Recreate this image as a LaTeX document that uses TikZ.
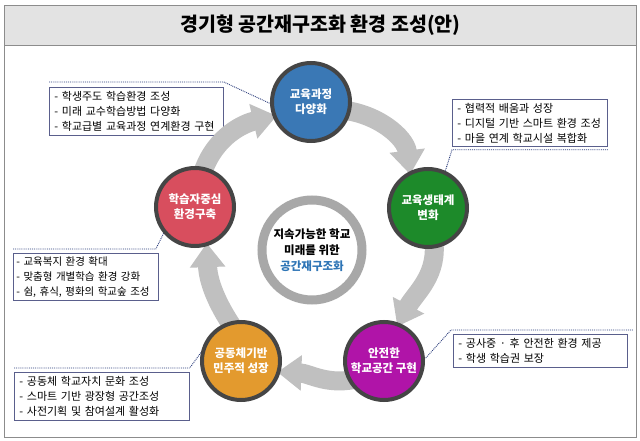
\documentclass[tikz,border=0pt]{standalone}
\usepackage{fontspec}
\setmainfont{Noto Sans CJK KR}
\usetikzlibrary{arrows.meta}
\definecolor{framegray}{HTML}{8C8C8C}
\definecolor{titlefill}{HTML}{E3E3E3}
\definecolor{arrowgray}{HTML}{C0C0C0}
\definecolor{ringgray}{HTML}{A8A8A8}
\definecolor{rimgray}{HTML}{454545}
\definecolor{cblue}{HTML}{3A78B5}
\definecolor{cgreen}{HTML}{1D8A2A}
\definecolor{cpurple}{HTML}{B014A8}
\definecolor{corange}{HTML}{E39A2E}
\definecolor{cred}{HTML}{D84E5E}
\definecolor{boxline}{HTML}{5A5F8C}
\definecolor{leadline}{HTML}{2A3C7C}
\definecolor{textblue}{HTML}{2E75B6}
\begin{document}
\begin{tikzpicture}[x=1pt,y=1pt,
  stage/.style={circle, draw=rimgray, line width=4pt, minimum size=78pt, inner sep=0pt,
    text=white, font=\bfseries\fontsize{11.5}{15}\selectfont, align=center},
  flow/.style={draw=arrowgray, line width=19pt, -{Triangle[length=24pt,width=34pt]}},
  callout/.style={draw=boxline, line width=0.8pt, fill=white, anchor=north west,
    inner xsep=5pt, inner ysep=0pt, align=left, font=\fontsize{11}{15}\selectfont},
  leader/.style={draw=leadline, line width=0.9pt, densely dotted},
]
\useasboundingbox (0,0) rectangle (640,-441);
% frame and title
\node[draw=framegray, line width=1.2pt, fill=white, minimum width=632pt, minimum height=432pt,
  anchor=north west, inner sep=0pt] (frame) at (4,-5) {};
\node[draw=framegray, line width=1.2pt, fill=titlefill, minimum width=632pt, minimum height=40pt,
  anchor=north west, inner sep=0pt, font=\bfseries\fontsize{19.5}{21}\selectfont] (title) at (4,-5)
  {경기형 공간재구조화 환경 조성(안)};

% centre ring
\node[circle, draw=ringgray, line width=9pt, minimum size=100pt, inner sep=0pt, align=center,
  font=\bfseries\fontsize{11.5}{16}\selectfont] (core) at (312,-250)
  {지속가능한 학교\\미래를 위한\\\textcolor{textblue}{공간재구조화}};

% stage positions
\coordinate (pblue) at (311,-102);
\coordinate (pgreen) at (428,-208);
\coordinate (ppurple) at (384,-361);
\coordinate (porange) at (241,-361);
\coordinate (pred) at (195,-207);

% callout boxes
\node[callout, minimum width=174pt, text width=164pt, minimum height=48pt] (b1) at (49,-87)
  {- 학생주도 학습환경 조성\\- 미래 교수학습방법 다양화\\- 학교급별 교육과정 연계환경 구현};
\node[callout, minimum width=155pt, text width=145pt, minimum height=47pt] (b2) at (452,-99)
  {- 협력적 배움과 성장\\- 디지털 기반 스마트 환경 조성\\- 마을 연계 학교시설 복합화};
\node[callout, inner xsep=3pt, minimum width=145pt, text width=139pt, minimum height=47pt,
  font=\fontsize{10.5}{15}\selectfont] (b3) at (13,-253)
  {- 교육복지 환경 확대\\- 맞춤형 개별학습 환경 강화\\- 쉼, 휴식, 평화의 학교숲 조성};
\node[callout, minimum width=174pt, text width=164pt, minimum height=33pt] (b4) at (453,-334)
  {- 공사중 · 후 안전한 환경 제공\\- 학생 학습권 보장};
\node[callout, minimum width=175pt, text width=165pt, minimum height=48pt] (b5) at (14,-372)
  {- 공동체 학교자치 문화 조성\\- 스마트 기반 광장형 공간조성\\- 사전기획 및 참여설계 활성화};

% circle anchors (drawn later)
\node[stage, draw=none] (blue) at (pblue) {};
\node[stage, draw=none] (green) at (pgreen) {};
\node[stage, draw=none] (purple) at (ppurple) {};
\node[stage, draw=none] (orange) at (porange) {};
\node[stage, draw=none] (red) at (pred) {};

% big flow arrows
\draw[flow] ([shift={(78:30pt)}]red.center) to[out=75,in=193] ([shift={(202:37pt)}]blue.center);
\draw[flow] ([shift={(-15:30pt)}]blue.center) to[out=-5,in=97] ([shift={(118:38pt)}]green.center);
\draw[flow] ([shift={(-80:30pt)}]green.center) to[out=-80,in=62] ([shift={(69:37pt)}]purple.center);
\draw[flow] ([shift={(215:30pt)}]purple.center) to[out=195,in=-2] ([shift={(-17:38pt)}]orange.center);
\draw[flow] ([shift={(100:30pt)}]orange.center) to[out=125,in=-88] ([shift={(-72:38pt)}]red.center);

% leader lines
\draw[leader] ([yshift=5pt]b1.north west) -- ([yshift=5pt]b1.north east) -- (blue.182);
\draw[leader] ([yshift=-3pt]b2.south east) -- ([yshift=-3pt]b2.south west) -- (green.65);
\draw[leader] ([yshift=4pt]b3.north west) -- ([shift={(-3pt,4pt)}]b3.north east) -- (red.220);
\draw[leader] ([shift={(5pt,4pt)}]b4.north east) -- ([shift={(-2pt,4pt)}]b4.north west) -- (purple.3);
\draw[leader] ([yshift=4pt]b5.north west) -- ([yshift=4pt]b5.north east) -- (orange.168);

% stage circles
\node[stage, fill=cblue] at (blue) {교육과정\\다양화};
\node[stage, fill=cgreen] at (green) {교육생태계\\변화};
\node[stage, fill=cpurple] at (purple) {안전한\\학교공간 구현};
\node[stage, fill=corange] at (orange) {공동체기반\\민주적 성장};
\node[stage, fill=cred] at (red) {학습자중심\\환경구축};
\end{tikzpicture}
\end{document}
